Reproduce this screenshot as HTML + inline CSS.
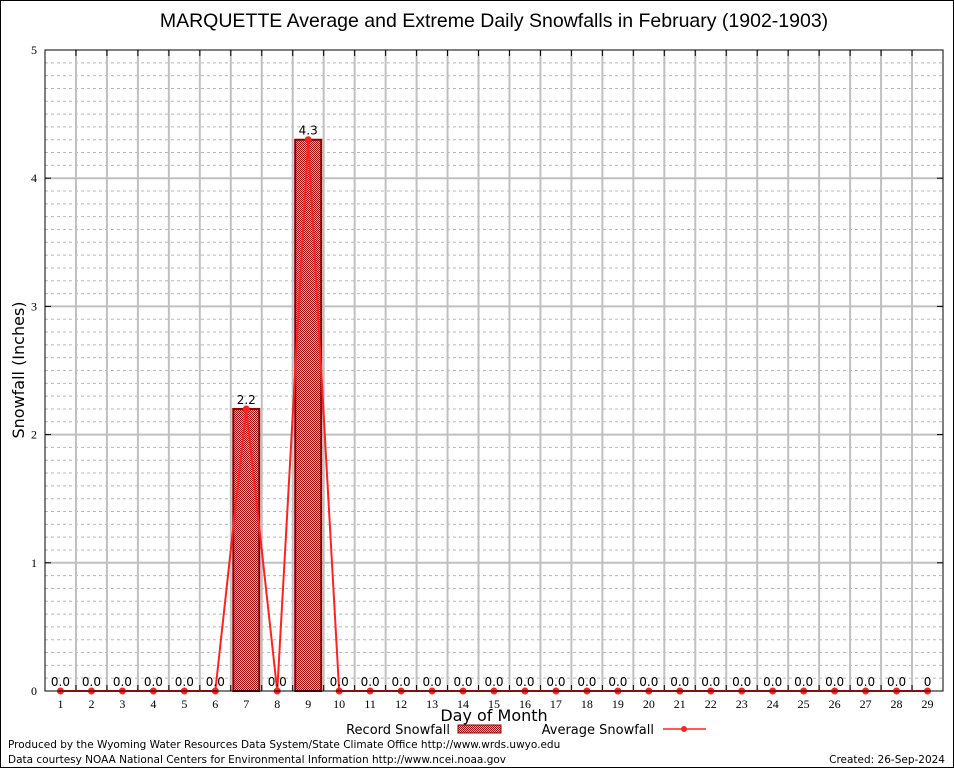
<!DOCTYPE html>
<html><head><meta charset="utf-8"><style>
body{margin:0;background:#fff}
svg{display:block;font-family:"DejaVu Sans","Liberation Sans",sans-serif}
</style></head><body>
<svg id="c" width="954" height="768" xmlns="http://www.w3.org/2000/svg">
<defs>
<pattern id="hatch" width="2" height="2" patternUnits="userSpaceOnUse">
<rect width="2" height="2" fill="#e8b0b0"/>
<rect width="1" height="1" fill="#a01010"/><rect x="1" y="1" width="1" height="1" fill="#a01010"/>
</pattern>
</defs>
<rect x="0.5" y="0.5" width="953" height="767" fill="#fff" stroke="#000"/>
<text x="494" y="27" font-size="19.5" text-anchor="middle" font-family="Liberation Sans, sans-serif">MARQUETTE Average and Extreme Daily Snowfalls in February (1902-1903)</text>
<g id="grid"></g>
<g id="marks"></g>
<rect x="45" y="50" width="898" height="641" fill="none" stroke="#000"/>
<text transform="translate(24,370) rotate(-90)" font-size="16" text-anchor="middle">Snowfall (Inches)</text>
<text x="494" y="721" font-size="16" text-anchor="middle">Day of Month</text>
<g>
<text x="450" y="734" font-size="13" text-anchor="end">Record Snowfall</text>
<rect x="458" y="725" width="43" height="8" fill="url(#hatch)" stroke="#8b0000"/>
<text x="654" y="734" font-size="13" text-anchor="end">Average Snowfall</text>
<line x1="663" y1="729" x2="706" y2="729" stroke="#f22" stroke-width="1.5"/>
<circle cx="684" cy="729" r="3" fill="#f22"/>
</g>
<text x="8" y="748" font-size="10.5">Produced by the Wyoming Water Resources Data System/State Climate Office http://www.wrds.uwyo.edu</text>
<text x="8" y="763" font-size="10.5">Data courtesy NOAA National Centers for Environmental Information http://www.ncei.noaa.gov</text>
<text x="945" y="763" font-size="10.5" text-anchor="end">Created:  26-Sep-2024</text>
</svg>
<script>
const days=[1,2,3,4,5,6,7,8,9,10,11,12,13,14,15,16,17,18,19,20,21,22,23,24,25,26,27,28,29];
const recordSnow=[0,0,0,0,0,0,2.2,0,4.3,0,0,0,0,0,0,0,0,0,0,0,0,0,0,0,0,0,0,0,0];
const avgSnow=[0,0,0,0,0,0,2.2,0,4.3,0,0,0,0,0,0,0,0,0,0,0,0,0,0,0,0,0,0,0,0];
const yTicks=[0,1,2,3,4,5];
const NS="http://www.w3.org/2000/svg";
const X0=45,X1=943,Y0=691,Y1=50,YMAX=5;
const step=(X1-X0)/days.length;
function xs(d){return X0+(d-0.5)*step;}
function ys(v){return Y0-(v/YMAX)*(Y0-Y1);}
function mk(tag,attrs,parent,text){const e=document.createElementNS(NS,tag);for(const k in attrs)e.setAttribute(k,attrs[k]);if(text!==undefined)e.textContent=text;parent.appendChild(e);return e;}
const grid=document.getElementById('grid'),marks=document.getElementById('marks');
for(let i=1;i<YMAX*10;i++){if(i%10===0)continue;const y=ys(i/10);
const l=mk('line',{x1:X0,x2:X1,y1:y,y2:y,stroke:'#b8b8b8','stroke-dasharray':'3,3','stroke-width':1},grid);

}
for(let i=1;i<days.length;i++){const x=X0+i*step;
const l=mk('line',{x1:x,x2:x,y1:Y1,y2:Y0,stroke:'#c0c0c0','stroke-width':2},grid);


mk('line',{x1:x,x2:x,y1:Y1,y2:Y1+6,stroke:'#000'},grid);
mk('line',{x1:x,x2:x,y1:Y0,y2:Y0-6,stroke:'#000'},grid);}
yTicks.forEach(v=>{const y=ys(v);
if(v>0&&v<YMAX){const l=mk('line',{x1:X0,x2:X1,y1:y,y2:y,stroke:'#c0c0c0','stroke-width':2},grid);

}
mk('line',{x1:X0,x2:X0+6,y1:y,y2:y,stroke:'#000'},grid);
mk('line',{x1:X1,x2:X1-6,y1:y,y2:y,stroke:'#000'},grid);
const t=mk('text',{x:X0-8,y:y+4,'font-size':12,'text-anchor':'end','font-family':'Liberation Serif, serif'},grid,String(v));

});
days.forEach((d,i)=>{const t=mk('text',{x:xs(d),y:Y0+17,'font-size':12,'text-anchor':'middle','font-family':'Liberation Serif, serif'},grid,String(d));

});
recordSnow.forEach((v,i)=>{if(v<=0)return;const x=xs(days[i]);
const b=mk('rect',{x:x-13,y:ys(v),width:26,height:Y0-ys(v),fill:'url(#hatch)',stroke:'#8b0000','stroke-width':2},marks);

});
const pts=avgSnow.map((v,i)=>xs(days[i])+','+ys(v)).join(' ');
const pl=mk('polyline',{points:pts,fill:'none',stroke:'#f22','stroke-width':2},marks);


avgSnow.forEach((v,i)=>{const c=mk('circle',{cx:xs(days[i]),cy:ys(v),r:3.5,fill:'#f22'},marks);

});
recordSnow.forEach((v,i)=>{const lab=(i===days.length-1&&v===0)?'0':v.toFixed(1);
const t=mk('text',{x:xs(days[i]),y:ys(v)-5,'font-size':12,'text-anchor':'middle'},marks,lab);

});
</script>
</body></html>
